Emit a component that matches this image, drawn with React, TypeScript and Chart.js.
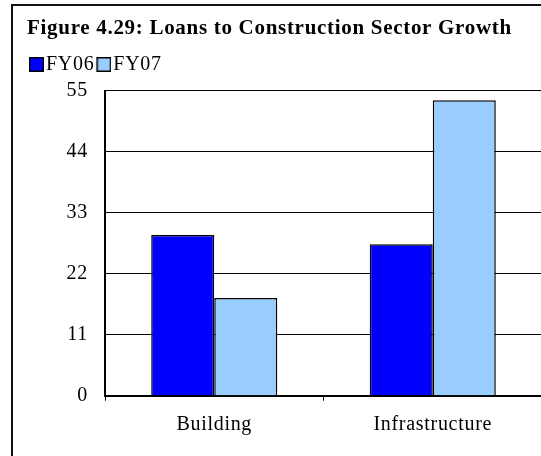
import React, { useEffect, useRef } from "react";
import { Chart, registerables, layouts } from "chart.js";

Chart.register(...registerables);

const TITLE = "Figure 4.29: Loans to Construction Sector Growth";
const categories = ["Building", "Infrastructure"];
const seriesNames = ["FY06", "FY07"];
const fy06 = [29.0, 27.3];
const fy07 = [17.6, 53.3];
const yTicks = [0, 11, 22, 33, 44, 55];

const COLORS = ["#0000FF", "#99CCFF"];
const FONT = "'Times New Roman', 'Liberation Serif', serif";
const LETTER_SPACING = "0.7px";
const SPACER_HEIGHT = 6.2;

// legend swatch: square drawn at the right side of a small image so the text sits close to it
const SWATCH_SLOT = 7;
const SWATCH_SIZE = 15;
function makeSwatch(color: string): HTMLCanvasElement {
  const w = SWATCH_SLOT + 16;
  const c = document.createElement("canvas");
  c.width = w;
  c.height = SWATCH_SIZE;
  const g = c.getContext("2d")!;
  const x0 = w - SWATCH_SIZE;
  g.fillStyle = color;
  g.fillRect(x0, 0, SWATCH_SIZE, SWATCH_SIZE);
  g.strokeStyle = "#000";
  g.lineWidth = 1.5;
  g.strokeRect(x0 + 0.75, 0.75, SWATCH_SIZE - 1.5, SWATCH_SIZE - 1.5);
  return c;
}

const letterSpacingPlugin = {
  id: "letterSpacing",
  beforeUpdate(chart: any) {
    chart.ctx.letterSpacing = LETTER_SPACING;
  },
  beforeLayout(chart: any) {
    chart.ctx.letterSpacing = LETTER_SPACING;
  },
  beforeDraw(chart: any) {
    chart.ctx.letterSpacing = LETTER_SPACING;
  },
};

const framePlugin = {
  id: "frame",
  beforeDraw(chart: any) {
    const ctx = chart.ctx;
    ctx.save();
    ctx.fillStyle = "#ffffff";
    ctx.fillRect(0, 0, chart.width, chart.height);
    ctx.strokeStyle = "#111111";
    ctx.lineWidth = 2;
    ctx.strokeRect(12, 5, chart.width + 100, chart.height + 100);
    ctx.restore();
  },
};

const spacerPlugin = {
  id: "legendSpacer",
  beforeInit(chart: any) {
    const box: any = {
      position: "top",
      weight: -10,
      fullSize: true,
      options: {},
      top: 0,
      left: 0,
      right: 0,
      bottom: 0,
      width: 0,
      height: 0,
      isHorizontal: () => true,
      update(maxWidth: number) {
        box.width = maxWidth;
        box.height = SPACER_HEIGHT;
      },
      draw() {},
    };
    layouts.addBox(chart, box);
  },
};

export default function App() {
  const canvasRef = useRef<HTMLCanvasElement | null>(null);

  useEffect(() => {
    if (!canvasRef.current) return;
    Chart.defaults.font.family = FONT;
    Chart.defaults.font.size = 20;
    Chart.defaults.color = "#000";

    const chart = new Chart(canvasRef.current, {
      type: "bar",
      data: {
        labels: categories,
        datasets: [
          {
            label: seriesNames[0],
            data: fy06,
            backgroundColor: COLORS[0],
            borderColor: "#000",
            borderWidth: 1.5,
            pointStyle: makeSwatch(COLORS[0]),
          },
          {
            label: seriesNames[1],
            data: fy07,
            backgroundColor: COLORS[1],
            borderColor: "#000",
            borderWidth: 1.5,
            pointStyle: makeSwatch(COLORS[1]),
          },
        ],
      },
      options: {
        responsive: false,
        animation: false,
        devicePixelRatio: 1,
        layout: { padding: { left: 27, top: 6, right: 0, bottom: 20.8 } },
        datasets: {
          bar: { categoryPercentage: 0.577, barPercentage: 1 },
        },
        plugins: {
          title: {
            display: true,
            text: TITLE,
            align: "start",
            color: "#000",
            font: { family: FONT, size: 21, weight: "bold" },
            padding: { top: 10.3, bottom: 11 },
          },
          legend: {
            display: true,
            position: "top",
            align: "start",
            labels: {
              usePointStyle: true,
              pointStyleWidth: SWATCH_SLOT,
              boxHeight: SWATCH_SIZE,
              padding: 2,
              color: "#000",
              font: { family: FONT, size: 20 },
            },
          },
          tooltip: { enabled: false },
        },
        scales: {
          x: {
            type: "category",
            offset: true,
            afterFit: (scale: any) => {
              scale.height = 39.5;
            },
            grid: {
              display: true,
              offset: true,
              drawOnChartArea: false,
              drawTicks: true,
              tickLength: 5,
              color: "#000",
              lineWidth: 1,
            },
            border: { display: true, color: "#000", width: 2 },
            ticks: {
              color: "#000",
              font: { family: FONT, size: 20 },
              padding: 12,
              maxRotation: 0,
              autoSkip: false,
            },
          },
          y: {
            min: yTicks[0],
            max: yTicks[yTicks.length - 1],
            afterFit: (scale: any) => {
              scale.width = 78;
            },
            afterBuildTicks: (scale: any) => {
              scale.ticks = yTicks.map((v) => ({ value: v }));
            },
            grid: {
              color: "#000",
              lineWidth: 1,
              drawTicks: false,
            },
            border: { display: true, color: "#000", width: 2 },
            ticks: {
              color: "#000",
              font: { family: FONT, size: 20 },
              padding: 17,
            },
          },
        },
      },
      plugins: [letterSpacingPlugin, framePlugin, spacerPlugin],
    } as any);

    return () => {
      chart.destroy();
    };
  }, []);

  return (
    <div
      style={{
        position: "fixed",
        left: 0,
        top: 0,
        width: 541,
        height: 456,
        overflow: "hidden",
        background: "#fff",
      }}
    >
      <canvas
        ref={canvasRef}
        width={542}
        height={456}
        style={{ display: "block", width: 542, height: 456 }}
      />
    </div>
  );
}
